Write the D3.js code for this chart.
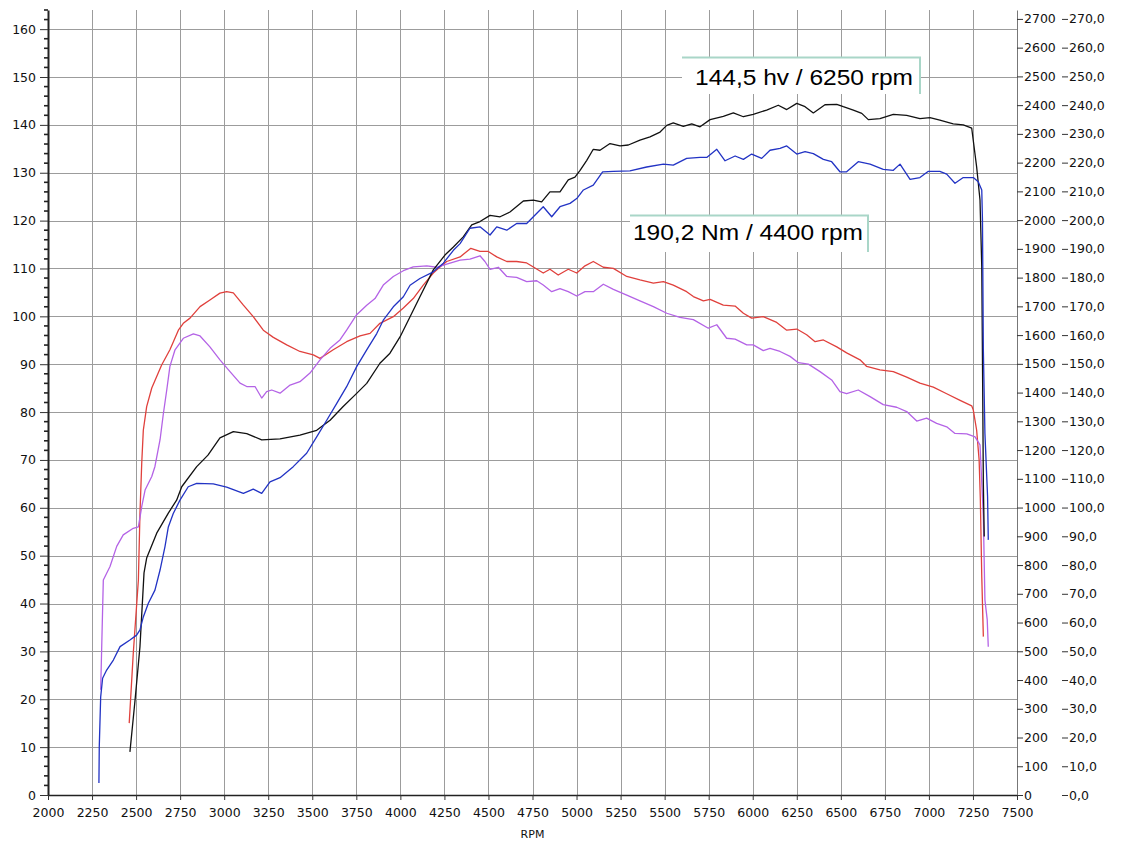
<!DOCTYPE html>
<html>
<head>
<meta charset="utf-8">
<script src="https://cdn.jsdelivr.net/npm/d3@7"></script>
<style>
  html, body { margin: 0; padding: 0; background: #ffffff; }
  svg { display: block; font-family: "DejaVu Sans", Verdana, sans-serif; }
</style>
</head>
<body>
<svg id="chart" width="1122" height="843"></svg>
<script>
// ---- axis ticks ----
const rpmTicks = d3.range(2000, 7501, 250);
const hvTicks = d3.range(0, 161, 10);
const hvMinorTicks = d3.range(0, 165, 2).filter(v => v % 10 !== 0);
const nm10Ticks = d3.range(0, 2701, 100);
const nmTicks = d3.range(0, 271, 10);

// ---- power, run A (black), [rpm, hv] ----
const powerA = [
  [2465, 9.0], [2494, 19.8], [2522, 31.0], [2545, 46.4], [2560, 49.5], [2617, 54.7],
  [2683, 58.9], [2730, 61.6], [2759, 64.4], [2844, 68.6], [2908, 71.0], [2976, 74.6],
  [3052, 75.9], [3128, 75.5], [3213, 74.2], [3317, 74.4], [3430, 75.2], [3525, 76.2],
  [3601, 78.3], [3674, 81.1], [3752, 83.9], [3809, 86.0], [3884, 90.2], [3941, 92.3],
  [3998, 95.7], [4055, 99.9], [4111, 104.1], [4187, 109.7], [4253, 112.8], [4301, 114.5],
  [4357, 116.6], [4405, 119.1], [4452, 119.8], [4509, 121.1], [4566, 120.8], [4622, 121.8],
  [4698, 124.1], [4755, 124.3], [4802, 123.9], [4849, 126.0], [4906, 126.0], [4953, 128.5],
  [4991, 129.1], [5020, 130.5], [5058, 132.6], [5095, 134.9], [5133, 134.7], [5190, 136.1],
  [5247, 135.6], [5294, 135.8], [5360, 136.8], [5417, 137.5], [5474, 138.5], [5512, 139.9],
  [5549, 140.4], [5606, 139.7], [5654, 140.2], [5701, 139.6], [5758, 141.1], [5833, 141.8],
  [5890, 142.5], [5947, 141.7], [6003, 142.2], [6079, 143.1], [6145, 144.1], [6193, 143.2],
  [6250, 144.5], [6297, 143.8], [6344, 142.5], [6410, 144.2], [6477, 144.3], [6514, 143.8],
  [6571, 143.1], [6619, 142.4], [6656, 141.1], [6722, 141.3], [6798, 142.2], [6874, 142.0],
  [6949, 141.3], [7006, 141.5], [7062, 141.0], [7138, 140.2], [7195, 140.0], [7243, 139.3],
  [7271, 131.2], [7290, 124.3], [7300, 110.3], [7305, 86.0], [7309, 65.0], [7314, 54.0]
];

// ---- power, run B (blue), [rpm, hv] ----
const powerB = [
  [2289, 2.5], [2291, 10.1], [2299, 20.5], [2310, 24.4], [2333, 26.1], [2371, 28.2],
  [2409, 31.0], [2465, 32.4], [2503, 33.4], [2522, 34.5], [2541, 37.2], [2569, 40.0],
  [2607, 42.8], [2636, 47.0], [2664, 51.9], [2683, 56.0], [2711, 58.8], [2749, 61.6],
  [2796, 64.4], [2844, 65.1], [2938, 65.0], [3014, 64.3], [3109, 63.0], [3165, 63.9],
  [3213, 63.0], [3260, 65.4], [3317, 66.3], [3392, 68.6], [3468, 71.4], [3525, 74.8],
  [3582, 78.3], [3639, 81.8], [3695, 85.3], [3752, 89.5], [3809, 93.0], [3866, 96.4],
  [3903, 99.2], [3960, 102.0], [4017, 104.1], [4055, 106.5], [4111, 107.9], [4187, 109.3],
  [4244, 111.1], [4301, 113.8], [4339, 115.2], [4395, 118.4], [4452, 118.7], [4509, 117.0],
  [4547, 118.7], [4604, 118.0], [4660, 119.4], [4717, 119.4], [4755, 120.8], [4811, 122.9],
  [4859, 120.8], [4906, 122.9], [4963, 123.6], [5001, 124.6], [5039, 126.4], [5095, 127.4],
  [5148, 130.2], [5209, 130.3], [5303, 130.4], [5398, 131.2], [5493, 131.8], [5549, 131.6],
  [5625, 133.0], [5701, 133.2], [5739, 133.2], [5796, 134.9], [5843, 132.5], [5900, 133.5],
  [5947, 132.8], [5994, 133.9], [6051, 133.0], [6098, 134.7], [6155, 135.1], [6193, 135.6],
  [6250, 133.9], [6297, 134.4], [6344, 134.0], [6401, 132.8], [6448, 132.3], [6495, 130.2],
  [6533, 130.2], [6599, 132.3], [6666, 131.8], [6741, 130.7], [6798, 130.5], [6836, 131.8],
  [6893, 128.6], [6949, 129.0], [6997, 130.3], [7062, 130.3], [7101, 129.7], [7148, 127.8],
  [7195, 129.0], [7252, 129.0], [7280, 128.1], [7300, 126.4], [7304, 120.0], [7309, 93.0],
  [7318, 75.5], [7333, 62.3], [7337, 53.3]
];

// ---- torque, run A (red), [rpm, Nm] ----
const torqueA = [
  [2461, 25.0], [2484, 49.3], [2513, 74.8], [2522, 97.9], [2532, 115.4], [2541, 126.9],
  [2560, 135.1], [2589, 141.6], [2645, 149.6], [2692, 154.9], [2740, 161.7], [2768, 164.1],
  [2806, 165.9], [2863, 169.9], [2919, 172.2], [2976, 174.6], [3014, 175.1], [3052, 174.7],
  [3109, 170.4], [3165, 166.4], [3222, 161.7], [3279, 159.2], [3355, 156.6], [3430, 154.3],
  [3506, 153.1], [3544, 151.9], [3619, 154.9], [3695, 157.7], [3771, 159.7], [3828, 160.6],
  [3884, 164.1], [3960, 166.4], [4017, 169.4], [4073, 172.7], [4130, 177.4], [4187, 181.6],
  [4225, 183.7], [4263, 185.6], [4339, 187.2], [4400, 190.2], [4452, 189.1], [4499, 189.1],
  [4547, 187.2], [4604, 185.6], [4660, 185.6], [4717, 185.1], [4755, 183.7], [4811, 181.6],
  [4849, 182.9], [4896, 180.9], [4953, 182.9], [5001, 181.6], [5048, 184.1], [5095, 185.6],
  [5152, 183.6], [5209, 183.2], [5285, 180.4], [5360, 179.2], [5436, 178.1], [5493, 178.6],
  [5549, 177.4], [5625, 175.1], [5663, 173.4], [5720, 171.9], [5758, 172.4], [5833, 170.4],
  [5900, 170.1], [5947, 167.6], [5994, 165.9], [6060, 166.4], [6136, 164.4], [6193, 161.7],
  [6250, 162.1], [6306, 160.1], [6354, 157.7], [6401, 158.3], [6477, 155.9], [6533, 153.8],
  [6609, 151.4], [6647, 149.1], [6722, 147.9], [6798, 147.3], [6874, 145.4], [6949, 143.3],
  [7025, 141.9], [7101, 139.6], [7177, 137.3], [7243, 135.4], [7252, 133.9], [7271, 126.9],
  [7285, 116.6], [7292, 102.6], [7300, 76.0], [7309, 55.1]
];

// ---- torque, run B (violet), [rpm, Nm] ----
const torqueB = [
  [2299, 36.6], [2314, 74.8], [2352, 79.5], [2390, 86.5], [2427, 90.5], [2484, 92.8],
  [2513, 93.3], [2532, 100.3], [2551, 106.1], [2589, 110.8], [2607, 114.3], [2636, 123.6],
  [2654, 132.3], [2674, 140.9], [2692, 149.1], [2721, 154.9], [2768, 158.9], [2825, 160.4],
  [2863, 159.7], [2919, 155.9], [2976, 151.4], [3033, 147.3], [3090, 143.3], [3128, 142.1],
  [3175, 142.1], [3213, 138.1], [3241, 140.3], [3270, 140.9], [3317, 139.8], [3374, 142.6],
  [3430, 143.8], [3487, 146.8], [3544, 151.4], [3601, 155.4], [3657, 158.3], [3695, 161.7],
  [3752, 167.1], [3809, 170.4], [3856, 172.7], [3903, 177.4], [3960, 180.4], [4017, 182.4],
  [4073, 183.7], [4150, 184.1], [4206, 183.6], [4263, 184.7], [4339, 186.1], [4395, 186.4],
  [4452, 187.6], [4480, 185.6], [4509, 182.9], [4556, 183.6], [4604, 180.4], [4660, 180.1],
  [4717, 178.6], [4774, 178.9], [4811, 177.4], [4859, 175.1], [4906, 176.2], [4953, 175.1],
  [5001, 173.6], [5048, 175.1], [5095, 175.1], [5152, 177.7], [5209, 175.9], [5285, 173.9],
  [5360, 171.9], [5436, 169.9], [5512, 167.6], [5587, 166.2], [5663, 165.4], [5748, 162.4],
  [5796, 163.6], [5852, 158.9], [5900, 158.6], [5966, 156.6], [6003, 156.6], [6060, 154.6],
  [6098, 155.4], [6155, 154.3], [6212, 152.6], [6259, 150.4], [6316, 149.9], [6382, 147.3],
  [6448, 144.4], [6495, 140.3], [6533, 139.6], [6599, 140.9], [6666, 138.6], [6741, 135.8],
  [6817, 134.9], [6874, 133.4], [6931, 130.1], [6987, 131.1], [7044, 129.3], [7101, 128.1],
  [7148, 125.8], [7215, 125.6], [7262, 124.6], [7290, 121.8], [7309, 96.8], [7318, 67.8],
  [7331, 61.0], [7337, 51.6]
];

// ---- peak annotations ----
const peakPower = { value: 144.5, unit: "hv", rpm: 6250 };
const peakTorque = { value: 190.2, unit: "Nm", rpm: 4400 };

// ---- layout ----
const W = 1122, H = 843;
const plot = { left: 48, right: 1017, top: 10, bottom: 795 };

const svg = d3.select("#chart");
svg.append("rect").attr("width", W).attr("height", H).attr("fill", "#ffffff");

const x = d3.scaleLinear().domain([2000, 7500]).range([plot.left, plot.right]);
const yHv = d3.scaleLinear().domain([0, 164]).range([plot.bottom, plot.top]);
const yNm = d3.scaleLinear().domain([0, 273.1]).range([plot.bottom, plot.top]);
const yNm10 = d3.scaleLinear().domain([0, 2731]).range([plot.bottom, plot.top]);

const fi = d3.formatLocale({ decimal: ",", thousands: ".", grouping: [3], currency: ["", ""] });
const fmt1 = fi.format(".1f");
const fmtInt = d3.format("d");

// ---- grid ----
const gridColor = "#9c9c9c";
const grid = svg.append("g").attr("stroke", gridColor).attr("stroke-width", 1).attr("shape-rendering", "crispEdges");
grid.selectAll("line.v")
  .data(rpmTicks.filter(v => v > 2000 && v < 7500))
  .join("line")
  .attr("x1", d => Math.round(x(d)) + 0.5).attr("x2", d => Math.round(x(d)) + 0.5)
  .attr("y1", plot.top).attr("y2", plot.bottom);
grid.selectAll("line.h")
  .data(hvTicks.filter(v => v > 0))
  .join("line")
  .attr("y1", d => Math.round(yHv(d)) + 0.5).attr("y2", d => Math.round(yHv(d)) + 0.5)
  .attr("x1", plot.left).attr("x2", plot.right);

// ---- axes ----
const axisColor = "#333";
const labelSize = "12.5px";
const labelFont = "'DejaVu Sans', Verdana, sans-serif";

// left: hv
const gLeft = svg.append("g").attr("transform", `translate(${plot.left},0)`)
  .call(d3.axisLeft(yHv).tickValues(hvTicks).tickSize(8).tickPadding(4).tickSizeOuter(0)
    .tickFormat(fmtInt));
gLeft.select(".domain").attr("stroke", "#222").attr("stroke-width", 2);
gLeft.selectAll(".tick line").attr("stroke", axisColor);
gLeft.selectAll("text").attr("font-size", labelSize).attr("fill", "#111").attr("font-family", labelFont);
gLeft.selectAll("line.minor")
  .data(hvMinorTicks)
  .join("line").attr("class", "minor")
  .attr("x1", -4).attr("x2", 0)
  .attr("y1", d => yHv(d)).attr("y2", d => yHv(d))
  .attr("stroke", "#222").attr("stroke-width", 1.6);

// bottom: rpm
const gBottom = svg.append("g").attr("transform", `translate(0,${plot.bottom})`)
  .call(d3.axisBottom(x).tickValues(rpmTicks).tickSize(5).tickPadding(8).tickSizeOuter(0)
    .tickFormat(fmtInt));
gBottom.select(".domain").attr("stroke", "#222").attr("stroke-width", 1.5);
gBottom.selectAll(".tick line").attr("stroke", axisColor);
gBottom.selectAll("text").attr("font-size", labelSize).attr("fill", "#111").attr("font-family", labelFont);

svg.append("text")
  .attr("x", (plot.left + plot.right) / 2).attr("y", 838)
  .attr("text-anchor", "middle").attr("font-size", "11px").attr("fill", "#111")
  .text("RPM");

// right: Nm x10 scale with axis line
const gRight = svg.append("g").attr("transform", `translate(${plot.right},0)`)
  .call(d3.axisRight(yNm10).tickValues(nm10Ticks).tickSize(6).tickPadding(1).tickSizeOuter(0)
    .tickFormat(fmtInt));
gRight.select(".domain").attr("stroke", "#777").attr("stroke-width", 1);
gRight.selectAll(".tick line").attr("stroke", axisColor);
gRight.selectAll("text").attr("font-size", labelSize).attr("fill", "#111").attr("font-family", labelFont);

// right: Nm scale labels
const gRight2 = svg.append("g").attr("transform", `translate(${plot.right + 45},0)`)
  .call(d3.axisRight(yNm).tickValues(nmTicks).tickSize(6).tickPadding(1).tickSizeOuter(0)
    .tickFormat(fmt1));
gRight2.select(".domain").remove();
gRight2.selectAll(".tick line").attr("stroke", axisColor);
gRight2.selectAll("text").attr("font-size", labelSize).attr("fill", "#111").attr("font-family", labelFont);

// ---- curves ----
const lineHv = d3.line().x(d => x(d[0])).y(d => yHv(d[1]));
const lineNm = d3.line().x(d => x(d[0])).y(d => yNm(d[1]));

const curves = svg.append("g").attr("fill", "none").attr("stroke-width", 1.3)
  .attr("stroke-linejoin", "round");
curves.append("path").datum(torqueA).attr("d", lineNm).attr("stroke", "#e0403c");
curves.append("path").datum(torqueB).attr("d", lineNm).attr("stroke", "#b463e6");
curves.append("path").datum(powerA).attr("d", lineHv).attr("stroke", "#111111");
curves.append("path").datum(powerB).attr("d", lineHv).attr("stroke", "#2233c4");

// ---- peak labels ----
function peakBox(box, text) {
  const g = svg.append("g");
  g.append("rect").attr("x", box.x0).attr("y", box.y0)
    .attr("width", box.x1 - box.x0).attr("height", box.y1 - box.y0).attr("fill", "#ffffff");
  g.append("path")
    .attr("d", `M${box.x0},${box.y0 + 0.5}H${box.x1 - 1}V${box.y1}`)
    .attr("fill", "none").attr("stroke", "#a9d6c8").attr("stroke-width", 2);
  g.append("text")
    .attr("x", box.tx).attr("y", box.ty)
    .attr("font-family", "'Liberation Sans', Arial, sans-serif")
    .attr("font-size", "22px").attr("fill", "#000")
    .attr("textLength", box.tw).attr("lengthAdjust", "spacingAndGlyphs")
    .text(text);
}
peakBox({ x0: 682, x1: 921, y0: 57, y1: 94, tx: 695, ty: 85, tw: 218 },
  `${fmt1(peakPower.value)} ${peakPower.unit} / ${peakPower.rpm} rpm`);
peakBox({ x0: 630, x1: 869, y0: 215, y1: 252, tx: 633, ty: 240, tw: 230 },
  `${fmt1(peakTorque.value)} ${peakTorque.unit} / ${peakTorque.rpm} rpm`);
</script>
</body>
</html>
